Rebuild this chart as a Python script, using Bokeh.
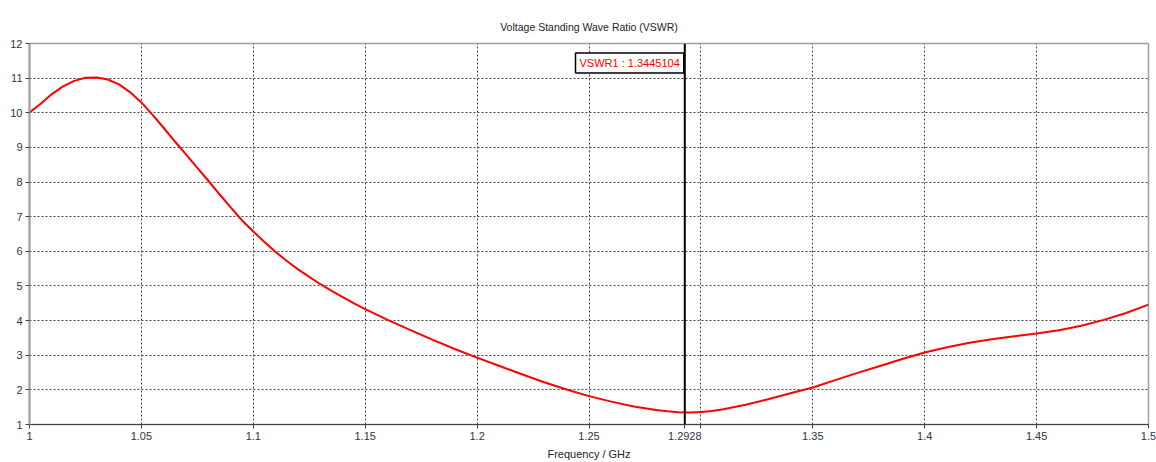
from bokeh.plotting import figure
from bokeh.models import Span, Label, FixedTicker, Range1d, NoOverlap
from bokeh.embed import file_html
from bokeh.resources import INLINE

freq = [1.0, 1.005, 1.01, 1.015, 1.02, 1.025, 1.03, 1.035, 1.04, 1.045,
        1.05, 1.055, 1.06, 1.065, 1.07, 1.075, 1.08, 1.085, 1.09, 1.095,
        1.1, 1.105, 1.11, 1.115, 1.12, 1.125, 1.13, 1.135, 1.14, 1.145,
        1.15, 1.16, 1.17, 1.18, 1.19, 1.2, 1.21, 1.22, 1.23, 1.24,
        1.25, 1.26, 1.27, 1.28, 1.285, 1.29, 1.2928, 1.295, 1.3, 1.305,
        1.31, 1.32, 1.33, 1.34, 1.35, 1.36, 1.37, 1.38, 1.39, 1.4,
        1.41, 1.42, 1.43, 1.44, 1.45, 1.46, 1.47, 1.48, 1.49, 1.5]
vswr = [10.01, 10.26, 10.54, 10.76, 10.92, 11.01, 11.02, 10.96, 10.82, 10.59,
        10.30, 9.94, 9.56, 9.17, 8.79, 8.41, 8.03, 7.64, 7.26, 6.89,
        6.57, 6.27, 5.98, 5.72, 5.48, 5.26, 5.05, 4.86, 4.68, 4.50,
        4.33, 4.02, 3.73, 3.45, 3.18, 2.93, 2.69, 2.45, 2.22, 2.01,
        1.82, 1.66, 1.52, 1.42, 1.38, 1.352, 1.3445104, 1.346, 1.36, 1.39,
        1.44, 1.57, 1.73, 1.90, 2.07, 2.28, 2.49, 2.69, 2.89, 3.08,
        3.23, 3.36, 3.46, 3.55, 3.63, 3.72, 3.85, 4.02, 4.22, 4.46]

x_ticks = [1.0, 1.05, 1.1, 1.15, 1.2, 1.25, 1.3, 1.35, 1.4, 1.45, 1.5]
x_tick_labels = ["1", "1.05", "1.1", "1.15", "1.2", "1.25", "1.3", "1.35", "1.4", "1.45", "1.5"]
y_ticks = [1, 2, 3, 4, 5, 6, 7, 8, 9, 10, 11, 12]

marker_freq = 1.2928
marker_value = 1.3445104
marker_name = "VSWR1"

title_text = "Voltage Standing Wave Ratio (VSWR)"
x_label = "Frequency / GHz"

FONT = "Liberation Sans"

p = figure(width=1156, height=462, output_backend="svg", toolbar_location=None,
           x_range=Range1d(1.0, 1.5), y_range=Range1d(1, 12),
           min_border_left=29, min_border_right=8, min_border_top=43,
           min_border_bottom=10)

p.title.text = title_text
p.title.align = "center"
p.title.text_font = FONT
p.title.text_font_size = "10.5px"
p.title.text_font_style = "normal"
p.title.text_color = "#222222"
p.title.standoff = 22

p.line(freq, vswr, line_color="#ff0000", line_width=2)

for ax in (p.xaxis[0], p.yaxis[0]):
    ax.major_label_text_font = FONT
    ax.major_label_text_font_size = "11px"
    ax.major_label_text_color = "#333344"
    ax.minor_tick_line_color = None
    ax.major_tick_in = 0
    ax.major_tick_out = 4

# the x axis also labels the marker frequency (the marker readout hides the 1.3 label)
axis_ticks = sorted(x_ticks + [marker_freq])
overrides = {t: l for t, l in zip(x_ticks, x_tick_labels)}
overrides[marker_freq] = f"{marker_freq}"
p.xaxis.ticker = FixedTicker(ticks=axis_ticks)
p.xaxis.major_label_overrides = overrides
p.xaxis.major_label_policy = NoOverlap(min_distance=0)
p.xaxis.axis_label = x_label
p.xaxis.axis_label_text_font = FONT
p.xaxis.axis_label_text_font_size = "11px"
p.xaxis.axis_label_text_font_style = "normal"
p.xaxis.axis_label_text_color = "#222222"
p.xaxis.axis_label_standoff = 5
p.xaxis.major_label_standoff = 3
p.xaxis.axis_line_color = "#404040"
p.xaxis.major_tick_line_color = "#404040"

p.yaxis.ticker = FixedTicker(ticks=y_ticks)
p.yaxis.axis_line_color = "#a0a0a0"
p.yaxis.axis_line_width = 2
p.yaxis.major_tick_line_color = "#404040"
p.yaxis.major_label_standoff = 3

p.xgrid.ticker = FixedTicker(ticks=x_ticks)
p.xgrid.grid_line_color = "#444444"
p.xgrid.grid_line_dash = "2 2"
p.ygrid.grid_line_color = "#444444"
p.ygrid.grid_line_dash = "2 2"

p.outline_line_color = "#a0a0a0"
p.outline_line_width = 1.5
p.background_fill_color = "white"
p.border_fill_color = "white"

p.add_layout(Span(location=marker_freq, dimension="height", line_color="black", line_width=2))

p.add_layout(Label(x=marker_freq, y=11.44, x_offset=-1, text=f"{marker_name} : {marker_value}",
                   text_align="right", text_baseline="middle", text_color="#ff0000",
                   text_font=FONT, text_font_size="11px",
                   border_line_color="black", border_line_width=1.5,
                   background_fill_color="white", padding=4))

open("out.html", "w").write(file_html(p, INLINE))
